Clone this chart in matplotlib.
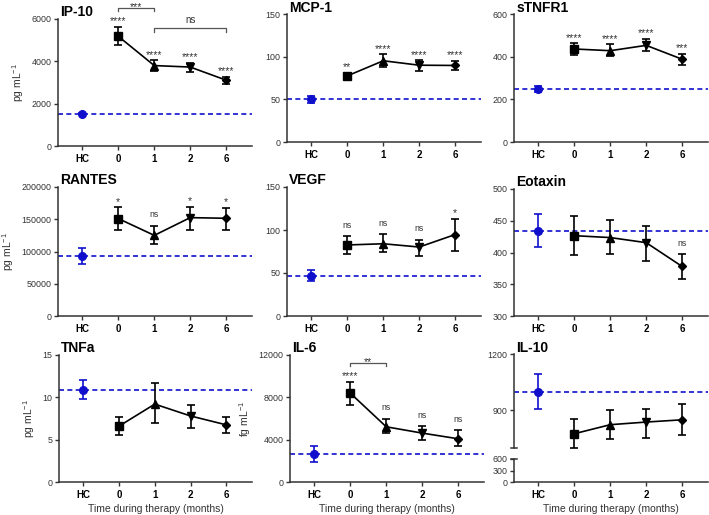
import matplotlib
matplotlib.use('Agg')
import matplotlib.pyplot as plt
import matplotlib.transforms as mtransforms

plt.rcParams['font.family'] = ['Liberation Sans', 'DejaVu Sans']
plt.rcParams['mathtext.default'] = 'regular'

categories = ['HC', '0', '1', '2', '6']

ip10_mean = [1530, 5180, 3800, 3730, 3110]
ip10_low = [1490, 4780, 3550, 3490, 2940]
ip10_high = [1570, 5620, 4040, 3920, 3250]
ip10_sig = ['', '****', '****', '****', '****']
ip10_brackets = [(1, 2, '***'), (2, 4, 'ns')]

mcp1_mean = [50.5, 77.5, 95.2, 90.0, 89.7]
mcp1_low = [46.0, 73.6, 88.0, 83.0, 83.8]
mcp1_high = [54.0, 81.0, 102.6, 95.6, 95.0]
mcp1_sig = ['', '**', '****', '****', '****']

stnfr1_mean = [250, 436, 428, 453, 388]
stnfr1_low = [234, 409, 402, 425, 361]
stnfr1_high = [264, 462, 458, 483, 412]
stnfr1_sig = ['', '****', '****', '****', '***']

rantes_mean = [92500, 151000, 125000, 152500, 151500]
rantes_low = [80000, 133000, 111700, 133500, 134000]
rantes_high = [105000, 168300, 140300, 168800, 167800]
rantes_sig = ['', '*', 'ns', '*', '*']

vegf_mean = [46.8, 82.6, 84.0, 80.2, 94.7]
vegf_low = [40.5, 72.5, 74.4, 69.3, 76.0]
vegf_high = [53.4, 93.0, 95.4, 88.8, 113.0]
vegf_sig = ['', 'ns', 'ns', 'ns', '*']

eotaxin_mean = [433.5, 426.5, 423.5, 415.5, 378.0]
eotaxin_low = [408.6, 396.6, 398.0, 386.7, 359.0]
eotaxin_high = [460.3, 457.2, 450.9, 441.5, 397.7]
eotaxin_sig = ['', '', '', '', 'ns']

tnfa_mean = [10.9, 6.6, 9.2, 7.8, 6.75]
tnfa_low = [9.8, 5.5, 7.0, 6.4, 5.8]
tnfa_high = [12.0, 7.7, 11.66, 9.15, 7.73]
tnfa_sig = ['', '', '', '', '']

il6_mean = [2650, 8390, 5215, 4620, 4085]
il6_low = [1885, 7260, 4590, 3960, 3390]
il6_high = [3420, 9490, 6000, 5310, 4870]
il6_sig = ['', '****', 'ns', 'ns', 'ns']
il6_brackets = [(1, 2, '**')]

il10_mean = [998, 776, 824, 838, 850]
il10_low = [907, 699, 749, 753, 769]
il10_high = [1092, 854, 903, 909, 934]
il10_sig = ['', '', '', '', '']

W, H = 709, 515
fig = plt.figure(figsize=(W / 100, H / 100), dpi=100)

BLUE = '#1010cc'
GRAY = '#333333'
MARKERS = ['o', 's', '^', 'v', 'D']
MSIZES = [5.5, 6, 6, 6, 4.5]


def make_ax(left, right, top, bottom):
    return fig.add_axes([left / W, 1 - bottom / H, (right - left) / W, (bottom - top) / H])


def style(ax, show_x=True):
    for s in ['top', 'right']:
        ax.spines[s].set_visible(False)
    for s in ['left', 'bottom']:
        ax.spines[s].set_color(GRAY)
        ax.spines[s].set_linewidth(1.1)
    ax.tick_params(axis='y', direction='out', length=3, width=1, color=GRAY,
                   labelsize=6.4, labelcolor=GRAY, pad=1.5)
    ax.tick_params(axis='x', direction='out', length=3, width=1, color=GRAY,
                   labelsize=7, pad=2.5)
    ax.set_xlim(-0.68, 4.72)
    if show_x:
        ax.set_xticks(range(len(categories)))
        ax.set_xticklabels(categories, fontweight='bold')
    else:
        ax.set_xticks([])
        ax.spines['bottom'].set_visible(False)


def draw_data(ax, mean, low, high, sig):
    x = list(range(len(categories)))
    ax.axhline(mean[0], color=BLUE, ls=(0, (3, 2)), lw=1.2, zorder=1, clip_on=False)
    ax.plot(x[1:], mean[1:], color='black', lw=1.2, zorder=2)
    for i in x:
        c = BLUE if i == 0 else 'black'
        ax.errorbar(x[i], mean[i], yerr=[[mean[i] - low[i]], [high[i] - mean[i]]],
                    fmt=MARKERS[i], color=c, ms=MSIZES[i], capsize=3.2,
                    elinewidth=1.2, capthick=1.2, zorder=3, clip_on=False)
        if sig[i]:
            if '*' in sig[i]:
                ax.annotate(sig[i], xy=(x[i], high[i]), xytext=(0, 0.5), textcoords='offset points',
                            ha='center', va='bottom', fontsize=7.5, color=GRAY)
            else:
                ax.annotate(sig[i], xy=(x[i], high[i]), xytext=(0, 4.5), textcoords='offset points',
                            ha='center', va='bottom', fontsize=6.2, color=GRAY)


def draw_brackets(ax, brackets, levels):
    trans = mtransforms.blended_transform_factory(ax.transData, ax.transAxes)
    for (i, j, lab), (yl, yt) in zip(brackets, levels):
        ax.plot([i, i, j, j], [yt, yl, yl, yt], transform=trans, color='#555555',
                lw=0.9, clip_on=False)
        if '*' in lab:
            ax.annotate(lab, xy=((i + j) / 2, yl), xycoords=trans, xytext=(0, -1.5),
                        textcoords='offset points', ha='center', va='baseline',
                        fontsize=7.5, color=GRAY)
        else:
            ax.annotate(lab, xy=((i + j) / 2, yl), xycoords=trans, xytext=(0, 3.5),
                        textcoords='offset points', ha='center', va='baseline',
                        fontsize=7, color=GRAY)


def title(ax, t):
    ax.annotate(t, xy=(0, 1), xycoords='axes fraction', xytext=(1.5, 1.8),
                textcoords='offset points', ha='left', va='baseline',
                fontsize=10, fontweight='bold')


def ylabel(ax, t):
    ax.set_ylabel(t, fontsize=7.5, color=GRAY, labelpad=4)


def xlabel(ax):
    ax.set_xlabel('Time during therapy (months)', fontsize=7.5, color=GRAY, labelpad=3)


# Row 1
ax = make_ax(58, 252, 19, 146)
style(ax)
ax.set_ylim(0, 6000)
ax.set_yticks([0, 2000, 4000, 6000])
draw_data(ax, ip10_mean, ip10_low, ip10_high, ip10_sig)
draw_brackets(ax, ip10_brackets, [(1.087, 1.063), (0.929, 0.898)])
title(ax, 'IP-10')
ylabel(ax, 'pg mL$^{-1}$')

ax = make_ax(287, 481, 14, 142)
style(ax)
ax.set_ylim(0, 150)
ax.set_yticks([0, 50, 100, 150])
draw_data(ax, mcp1_mean, mcp1_low, mcp1_high, mcp1_sig)
title(ax, 'MCP-1')

ax = make_ax(514, 708, 14, 142)
style(ax)
ax.set_ylim(0, 600)
ax.set_yticks([0, 200, 400, 600])
draw_data(ax, stnfr1_mean, stnfr1_low, stnfr1_high, stnfr1_sig)
title(ax, 'sTNFR1')

# Row 2
ax = make_ax(58, 252, 187, 316)
style(ax)
ax.set_ylim(0, 200000)
ax.set_yticks([0, 50000, 100000, 150000, 200000])
draw_data(ax, rantes_mean, rantes_low, rantes_high, rantes_sig)
title(ax, 'RANTES')
ylabel(ax, 'pg mL$^{-1}$')

ax = make_ax(287, 481, 187, 316)
style(ax)
ax.set_ylim(0, 150)
ax.set_yticks([0, 50, 100, 150])
draw_data(ax, vegf_mean, vegf_low, vegf_high, vegf_sig)
title(ax, 'VEGF')

ax = make_ax(514, 708, 189, 316)
style(ax)
ax.set_ylim(300, 500)
ax.set_yticks([300, 350, 400, 450, 500])
draw_data(ax, eotaxin_mean, eotaxin_low, eotaxin_high, eotaxin_sig)
title(ax, 'Eotaxin')

# Row 3
ax = make_ax(59, 252, 355, 482)
style(ax)
ax.set_ylim(0, 15)
ax.set_yticks([0, 5, 10, 15])
draw_data(ax, tnfa_mean, tnfa_low, tnfa_high, tnfa_sig)
title(ax, 'TNFa')
ylabel(ax, 'pg mL$^{-1}$')
xlabel(ax)

ax = make_ax(290, 484, 355, 482)
style(ax)
ax.set_ylim(0, 12000)
ax.set_yticks([0, 4000, 8000, 12000])
draw_data(ax, il6_mean, il6_low, il6_high, il6_sig)
draw_brackets(ax, il6_brackets, [(0.937, 0.913)])
title(ax, 'IL-6')
ylabel(ax, 'fg mL$^{-1}$')
xlabel(ax)

# IL-10 broken axis
ax_up = make_ax(514, 708, 354, 448)
style(ax_up, show_x=False)
ax_up.set_ylim(700, 1200)
ax_up.set_yticks([900, 1200])
draw_data(ax_up, il10_mean, il10_low, il10_high, il10_sig)
title(ax_up, 'IL-10')
ax_up.plot([-0.016, 0.016], [0, 0], transform=ax_up.transAxes, color=GRAY, lw=1.1, clip_on=False)

ax_lo = make_ax(514, 708, 459, 482)
style(ax_lo)
ax_lo.set_ylim(0, 600)
ax_lo.set_yticks([0, 300, 600])
ax_lo.plot([-0.016, 0.016], [1, 1], transform=ax_lo.transAxes, color=GRAY, lw=1.1, clip_on=False)
xlabel(ax_lo)

fig.savefig('out.png', dpi=100)
